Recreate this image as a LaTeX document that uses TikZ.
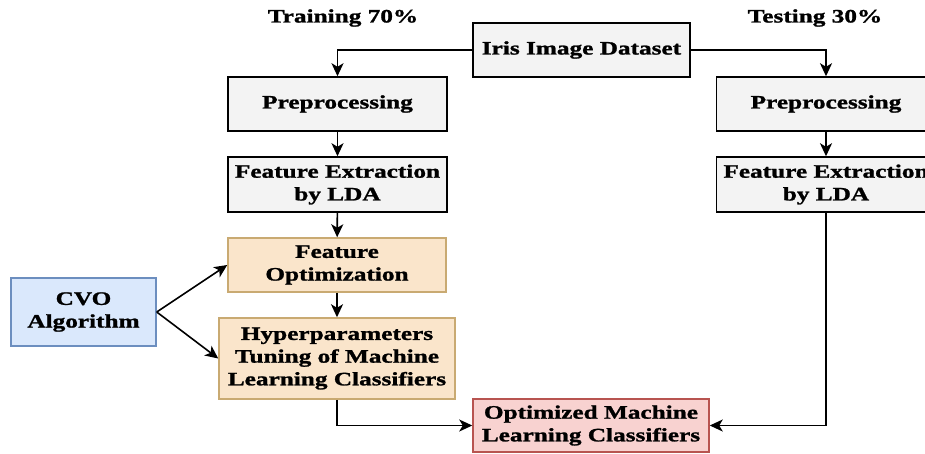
\documentclass[tikz,border=0pt]{standalone}
\usepackage{fontspec}
\setmainfont{Liberation Serif}[FakeStretch=1.33, BoldFeatures={FakeBold=1.3}]
\usetikzlibrary{arrows.meta}
\definecolor{boxgray}{HTML}{F3F3F3}
\definecolor{optfill}{HTML}{FAE5CB}
\definecolor{optdraw}{HTML}{C9AA72}
\definecolor{cvofill}{HTML}{DAE8FC}
\definecolor{cvodraw}{HTML}{6C8EBF}
\definecolor{resfill}{HTML}{F8D2D0}
\definecolor{resdraw}{HTML}{B85450}

\begin{document}
\begin{tikzpicture}[x=1pt, y=-1pt,
  every node/.style={font=\fontsize{19}{22.7}\selectfont\bfseries, align=center, inner sep=0pt},
  stage/.style={draw=black, line width=1.5pt, fill=boxgray, minimum height=54pt},
  tuned/.style={draw=optdraw, line width=1.5pt, fill=optfill},
  link/.style={line width=1.6pt, -{Stealth[length=13pt, width=12pt, inset=3.5pt]}}]
  \useasboundingbox (0,0) rectangle (925,453);
  \clip (0,0) rectangle (925,453);

  % split labels
  \node (train) at (343,18) {Training 70\%};
  \node (test)  at (815,18) {Testing 30\%};

  % dataset and the two branches
  \node[stage, minimum width=217pt] (iris) at (581.5,50) {Iris Image Dataset};
  \node[stage, minimum width=219pt] (preL) at (337.5,104) {Preprocessing};
  \node[stage, minimum width=219pt, minimum height=55pt] (feL) at (337.5,184.5) {Feature Extraction\\by LDA};
  \node[stage, minimum width=219pt] (preR) at (826,104) {Preprocessing};
  \node[stage, minimum width=219pt, minimum height=55pt] (feR) at (826,184.5) {Feature Extraction\\by LDA};

  % optimization part
  \node[tuned, minimum width=218pt, minimum height=54pt] (fopt) at (337,265) {Feature\\Optimization};
  \node[tuned, minimum width=236pt, minimum height=81pt] (hyp) at (337,358.5) {Hyperparameters\\Tuning of Machine\\Learning Classifiers};
  \node[draw=cvodraw, line width=1.5pt, fill=cvofill, minimum width=145pt, minimum height=68pt] (cvo) at (83.5,312) {CVO\\Algorithm};
  \node[draw=resdraw, line width=1.5pt, fill=resfill, minimum width=236pt, minimum height=53pt] (res) at (591,425.5) {Optimized Machine\\Learning Classifiers};

  \draw[link] (iris.west) -| (preL.north);
  \draw[link] (iris.east) -| (preR.north);
  \draw[link] (preL) -- (feL);
  \draw[link] (preR) -- (feR);
  \draw[link] (feL) -- (fopt);
  \draw[link] (fopt) -- (hyp);
  \draw[link] (cvo.east) -- (fopt.west);
  \draw[link] (cvo.east) -- (hyp.west);
  \draw[link] (hyp.south) |- (res.west);
  \draw[link] (feR.south) |- (res.east);
\end{tikzpicture}
\end{document}
